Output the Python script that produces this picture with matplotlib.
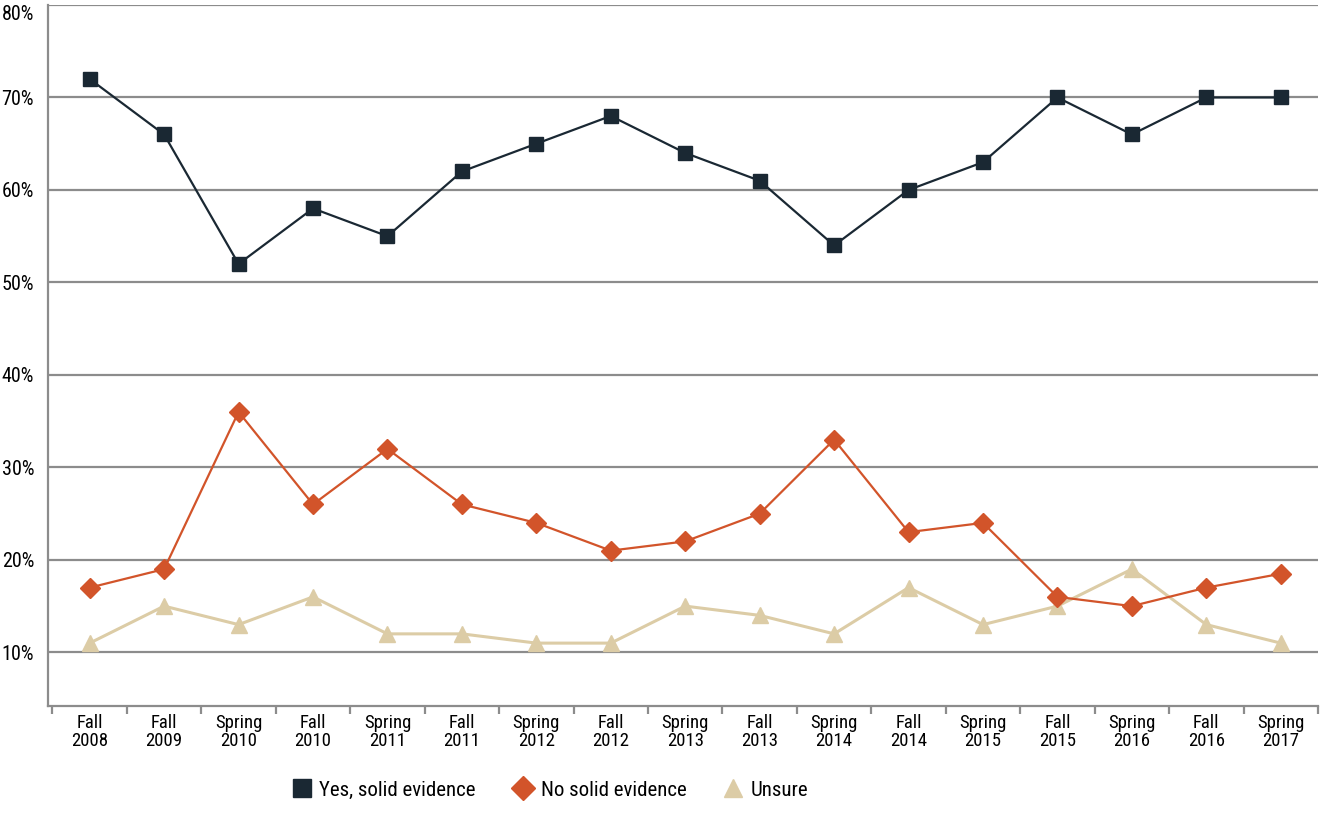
import numpy as np
import matplotlib
matplotlib.use("Agg")
import matplotlib.pyplot as plt
from matplotlib.lines import Line2D

plt.rcParams['font.family'] = ['Roboto Condensed', 'Liberation Sans', 'DejaVu Sans']

# data
periods = ["Fall\n2008", "Fall\n2009", "Spring\n2010", "Fall\n2010", "Spring\n2011",
           "Fall\n2011", "Spring\n2012", "Fall\n2012", "Spring\n2013", "Fall\n2013",
           "Spring\n2014", "Fall\n2014", "Spring\n2015", "Fall\n2015", "Spring\n2016",
           "Fall\n2016", "Spring\n2017"]
yes_solid = [72, 66, 52, 58, 55, 62, 65, 68, 64, 61, 54, 60, 63, 70, 66, 70, 70]
no_solid = [17, 19, 36, 26, 32, 26, 24, 21, 22, 25, 33, 23, 24, 16, 15, 17, 18.5]
unsure = [11, 15, 13, 16, 12, 12, 11, 11, 15, 14, 12, 17, 13, 15, 19, 13, 11]
yticks = [10, 20, 30, 40, 50, 60, 70, 80]

dark = "#1a2833"
orange = "#d2542a"
beige = "#dccca6"
grid_col = "#8c8c8c"

fig = plt.figure(figsize=(13.2, 8.25), dpi=100)
ax = fig.add_axes([48/1320, 1 - 706/825, 1270/1320, 701/825])

x = np.arange(len(periods))
ax.plot(x, unsure, color=beige, lw=2.2, marker='^', ms=12, zorder=3)
ax.plot(x, no_solid, color=orange, lw=1.6, marker='D', ms=10, zorder=4)
ax.plot(x, yes_solid, color=dark, lw=1.6, marker='s', ms=10.5, zorder=5)

ax.set_xlim(-0.56, len(periods) - 0.5)
ax.set_ylim(4.2, 80)

ax.set_yticks(yticks)
ax.set_yticklabels([f"{v}%" for v in yticks], fontsize=14.5)
ax.tick_params(axis='y', length=0, pad=10)
ax.yaxis.grid(True, color=grid_col, lw=1.6)
ax.set_axisbelow(True)
ylabels = ax.get_yticklabels()
ylabels[-1].set_va('top')

# category labels centred, ticks on boundaries
ax.set_xticks(x)
ax.set_xticklabels(periods, fontsize=13.5, linespacing=0.95)
ax.tick_params(axis='x', length=0, pad=6)
ax.set_xticks(np.arange(-0.5, len(periods)), minor=True)
ax.tick_params(axis='x', which='minor', length=6, width=1.6, color=grid_col, direction='out')

for s in ['top', 'right']:
    ax.spines[s].set_visible(False)
for s in ['left', 'bottom']:
    ax.spines[s].set_color(grid_col)
    ax.spines[s].set_linewidth(1.6)

handles = [
    Line2D([], [], ls='none', marker='s', ms=13, color=dark),
    Line2D([], [], ls='none', marker='D', ms=12, color=orange),
    Line2D([], [], ls='none', marker='^', ms=13, color=beige),
]
fig.legend(handles, ["Yes, solid evidence", "No solid evidence", "Unsure"],
           loc='center', bbox_to_anchor=(0.417, 1 - 790/825), ncol=3, frameon=False,
           fontsize=15, handlelength=0.9, handletextpad=0.4, columnspacing=1.8)

fig.savefig("out.png", dpi=100)
